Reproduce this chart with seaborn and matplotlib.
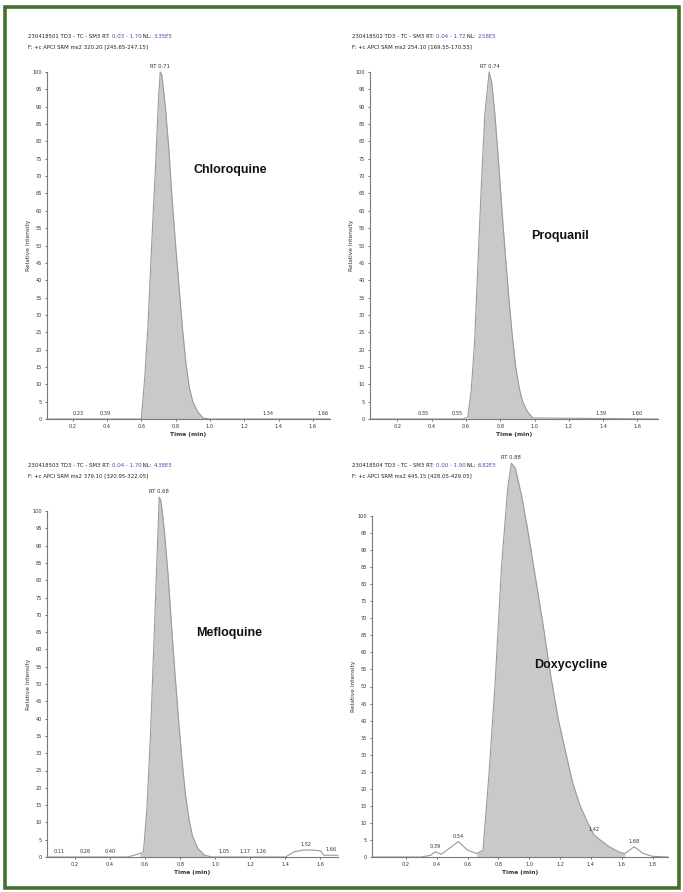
import matplotlib
matplotlib.use("Agg")
import matplotlib.pyplot as plt
import matplotlib.font_manager as fm
import seaborn as sns
import pandas as pd
from matplotlib.patches import Rectangle

sns.set_style("white")
plt.rcParams['font.family'] = ['DejaVu Sans']

# ---------------- data ----------------
drugs = ["Chloroquine", "Proquanil", "Mefloquine", "Doxycycline"]

chlor_t = [0.05, 0.55, 0.60, 0.62, 0.64, 0.66, 0.68, 0.70, 0.71, 0.72, 0.74, 0.76, 0.78,
           0.80, 0.82, 0.84, 0.86, 0.88, 0.90, 0.93, 0.96, 1.00, 1.70]
chlor_v = [0, 0, 0, 12, 28, 50, 70, 92, 100, 99, 90, 78, 63,
           50, 38, 26, 16, 9, 5, 2, 0.3, 0, 0]

prog_t = [0.04, 0.58, 0.61, 0.63, 0.65, 0.67, 0.69, 0.71, 0.735, 0.75, 0.77, 0.79, 0.81,
          0.83, 0.85, 0.87, 0.89, 0.91, 0.93, 0.96, 0.99, 1.72]
prog_v = [0, 0, 0.5, 8, 22, 45, 68, 88, 100, 97, 87, 74, 60,
          47, 35, 24, 15, 9, 5, 2, 0.3, 0]

meflo_t = [0.04, 0.50, 0.57, 0.59, 0.61, 0.63, 0.65, 0.67, 0.68, 0.69, 0.71, 0.73, 0.75, 0.77,
           0.79, 0.81, 0.83, 0.85, 0.87, 0.90, 0.94, 0.98, 1.40, 1.45, 1.50, 1.55, 1.60, 1.62, 1.70]
meflo_v = [0, 0, 1, 1.5, 14, 35, 62, 90, 104, 103, 94, 82, 67, 53,
           40, 28, 18, 11, 6, 2.5, 0.5, 0, 0, 1.5, 2, 2, 1.8, 0.5, 0.5]

doxy_t = [-0.02, 0.30, 0.36, 0.39, 0.43, 0.48, 0.54, 0.60, 0.66, 0.70, 0.74, 0.78, 0.82, 0.86,
          0.884, 0.91, 0.95, 0.99, 1.04, 1.09, 1.14, 1.19, 1.24, 1.28, 1.33, 1.38, 1.42, 1.46,
          1.52, 1.58, 1.62, 1.68, 1.74, 1.80, 1.90]
doxy_v = [0, 0, 0.5, 1.5, 0.8, 2.5, 4.5, 2, 1, 2, 25, 52, 85, 108,
          115.5, 114, 106, 96, 82, 68, 53, 40, 30, 22, 15, 10, 6.5, 5,
          3, 1.5, 1, 3, 1, 0.2, 0]

fill_ranges = [(0.59, 1.00), (0.60, 1.00), (0.57, 0.98), (0.66, 1.62)]

peak_rt = [0.71, 0.74, 0.68, 0.88]
peak_lv = [100, 100, 104, 115.5]
minor_rt = [[0.23, 0.39, 1.34, 1.66],
            [0.35, 0.55, 1.39, 1.60],
            [0.11, 0.26, 0.40, 1.05, 1.17, 1.26, 1.52, 1.66],
            [0.39, 0.54, 1.42, 1.68]]
minor_lv = [[0, 0, 0, 0],
            [0, 0, 0, 0],
            [0, 0, 0, 0, 0, 0, 2, 0.5],
            [1.5, 4.5, 6.5, 3]]

xlims = [(0.05, 1.70), (0.04, 1.72), (0.04, 1.70), (-0.02, 1.90)]
xtick_sets = [[0.2, 0.4, 0.6, 0.8, 1.0, 1.2, 1.4, 1.6]] * 3 + [[0.2, 0.4, 0.6, 0.8, 1.0, 1.2, 1.4, 1.6, 1.8]]
yticks = list(range(0, 101, 5))

head1_black = ["230418501 TD3 - TC - SM3 RT: ", "230418502 TD3 - TC - SM3 RT: ",
               "230418503 TD3 - TC - SM3 RT: ", "230418504 TD3 - TC - SM3 RT: "]
head1_range = ["0.03 - 1.70", "0.04 - 1.72", "0.04 - 1.70", "0.00 - 1.90"]
head1_nl = ["3.35E5", "2.58E5", "4.38E5", "6.82E5"]
head2 = ["F: +c APCI SRM ms2 320.20 [245.65-247.15]",
         "F: +c APCI SRM ms2 254.10 [169.55-170.55]",
         "F: +c APCI SRM ms2 379.10 [320.95-322.05]",
         "F: +c APCI SRM ms2 445.15 [428.05-429.05]"]

xs = [chlor_t, prog_t, meflo_t, doxy_t]
ys = [chlor_v, prog_v, meflo_v, doxy_v]

# ---------------- layout (pixel boxes) ----------------
W, H = 683, 892
boxes = [(47, 330, 72, 419), (370, 658, 72, 419), (47, 338, 511, 857), (372, 668, 516, 857)]
head_xy = [(28, 37), (352, 37), (28, 466), (352, 466)]
name_xy = [(230, 170), (560, 236), (229, 633), (571, 665)]

# condensed bold font if available
name_family = ["Liberation Sans Narrow", "Noto Sans Condensed", "Liberation Sans"]
name_size = 9.0
try:
    p = fm.findfont(fm.FontProperties(family=name_family[:2], weight="bold", stretch="condensed"),
                    fallback_to_default=False)
    if "narrow" in p.lower() or "condensed" in p.lower():
        name_size = 10.5
except Exception:
    pass

fig = plt.figure(figsize=(W / 100, H / 100), dpi=100)

line_col = "#9a9a9a"
fill_col = "#c9c9c9"
axis_col = "#7a7a7a"
txt_col = "#333333"
blue = "#4a4ab8"

for i in range(4):
    l, r, t, b = boxes[i]
    ax = fig.add_axes([l / W, 1 - b / H, (r - l) / W, (b - t) / H])
    df = pd.DataFrame({"t": xs[i], "v": ys[i]})
    lo, hi = fill_ranges[i]
    m = (df.t >= lo) & (df.t <= hi)
    ax.fill_between(df.t[m], 0, df.v[m], color=fill_col, lw=0, zorder=1, clip_on=False)
    sns.lineplot(data=df, x="t", y="v", ax=ax, color=line_col, lw=0.8, zorder=2)
    for ln in ax.lines:
        ln.set_clip_on(False)
    ax.set_xlim(*xlims[i])
    ax.set_ylim(0, 100)
    ax.set_xticks(xtick_sets[i])
    ax.set_xticklabels([f"{v:.1f}" for v in xtick_sets[i]])
    ax.set_yticks(yticks)
    ax.set_yticklabels([str(v) for v in yticks])
    ax.tick_params(axis="both", labelsize=3.6, colors=txt_col, length=1.5, width=0.5, pad=2,
                   direction="out", bottom=True, left=True)
    for s in ["top", "right"]:
        ax.spines[s].set_visible(False)
    for s in ["left", "bottom"]:
        ax.spines[s].set_color(axis_col)
        ax.spines[s].set_linewidth(0.8)
    ax.set_xlabel("Time (min)", fontsize=4.2, color=txt_col, labelpad=2, fontweight="bold")
    ax.set_ylabel("Relative Intensity", fontsize=4.2, color=txt_col, labelpad=1)
    ax.patch.set_alpha(0)
    # peak label
    ax.annotate(f"RT {peak_rt[i]:.2f}", xy=(peak_rt[i], peak_lv[i]), xytext=(0, 2),
                textcoords="offset points", ha="center", va="bottom", fontsize=3.8,
                color=txt_col, annotation_clip=False)
    for rt, lv in zip(minor_rt[i], minor_lv[i]):
        ax.annotate(f"{rt:.2f}", xy=(rt, lv), xytext=(0, 2), textcoords="offset points",
                    ha="center", va="bottom", fontsize=3.6, color=txt_col)
    # headers
    hx, hy = head_xy[i]
    t1 = fig.text(hx / W, 1 - hy / H, head1_black[i], fontsize=3.9, color="#222222",
                  ha="left", va="center")
    a1 = ax.annotate(head1_range[i], xy=(1, 0), xycoords=t1, va="bottom", ha="left",
                     fontsize=3.9, color=blue, annotation_clip=False)
    a2 = ax.annotate(" NL: ", xy=(1, 0), xycoords=a1, va="bottom", ha="left",
                     fontsize=3.9, color="#222222", annotation_clip=False)
    ax.annotate(head1_nl[i], xy=(1, 0), xycoords=a2, va="bottom", ha="left",
                fontsize=3.9, color=blue, annotation_clip=False)
    fig.text(hx / W, 1 - (hy + 10) / H, head2[i], fontsize=3.9, color="#222222",
             ha="left", va="center")
    nx, ny = name_xy[i]
    fig.text(nx / W, 1 - ny / H, drugs[i], fontsize=name_size, fontweight="bold",
             family=name_family, stretch="condensed",
             ha="center", va="center", color="#111111")

# green frame
fig.patches.append(Rectangle((5 / W, 4 / H), 674 / W, 881 / H, transform=fig.transFigure,
                             fill=False, edgecolor="#44702f", lw=2.6, zorder=10))

fig.savefig("out.png", dpi=100, facecolor="white")
